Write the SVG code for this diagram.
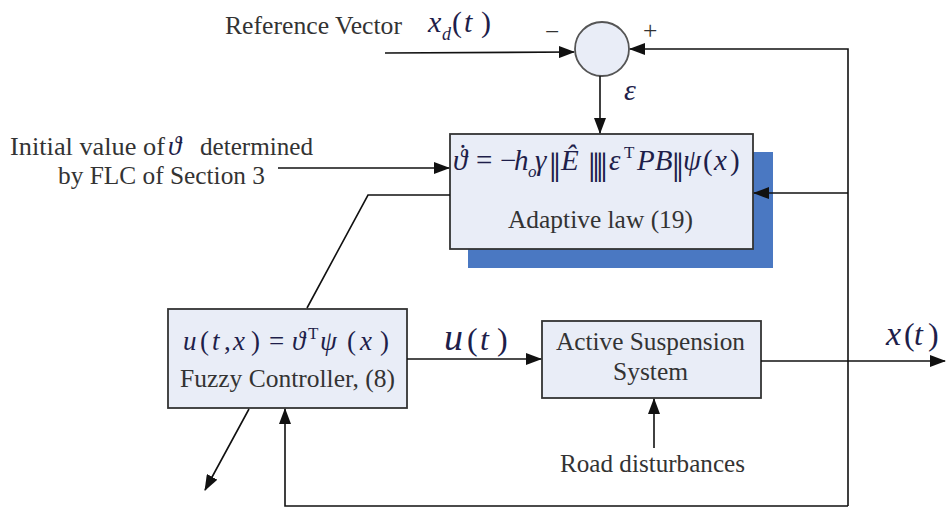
<svg xmlns="http://www.w3.org/2000/svg" width="946" height="513" viewBox="0 0 946 513" font-family="'Liberation Serif', 'Times New Roman', 'DejaVu Serif', serif">
<style>
.ln{fill:none;stroke:#111;stroke-width:1.6}
.box{fill:#e9edf7;stroke:#333;stroke-width:1.8}
.t{font-family:'Liberation Serif','Times New Roman','DejaVu Serif',serif;fill:#333;font-size:25.5px}
.m{font-family:'Liberation Serif','Times New Roman','DejaVu Serif',serif;font-style:italic;fill:#1e1e4a}
.n{font-style:normal}
</style>
<defs>
<marker id="ah" markerUnits="userSpaceOnUse" markerWidth="16" markerHeight="12" refX="15" refY="6" orient="auto">
<path d="M0,0 L16,6 L0,12 Z" fill="#111"/>
</marker>
</defs>
<rect width="946" height="513" fill="#fff"/>
<g id="labels">
<text class="t" x="225" y="34" textLength="177" lengthAdjust="spacingAndGlyphs">Reference Vector</text>
<text class="m" font-size="30"><tspan x="428" y="32">x</tspan><tspan x="442" y="40" font-size="18">d</tspan><tspan class="n" x="452" y="32">(</tspan><tspan x="464" y="32">t</tspan><tspan class="n" x="481" y="32">)</tspan></text>
<text class="t" x="545" y="40" font-size="26">−</text>
<text class="t" x="643" y="39" font-size="22">+</text>
<text class="m" x="624" y="100" font-size="30">ε</text>
<text class="t" x="10" y="155" textLength="155" lengthAdjust="spacingAndGlyphs">Initial value of</text>
<text class="m" x="168" y="155" font-size="27">ϑ</text>
<text class="t" x="200" y="155" textLength="113" lengthAdjust="spacingAndGlyphs">determined</text>
<text class="t" x="58" y="184" textLength="207" lengthAdjust="spacingAndGlyphs">by FLC of Section 3</text>
<text class="m" font-size="32"><tspan x="444" y="350" font-size="38">u</tspan><tspan class="n" x="467" y="350">(</tspan><tspan x="480" y="350">t</tspan><tspan class="n" x="497" y="350">)</tspan></text>
<text class="m" font-size="32"><tspan x="886" y="345" font-size="34">x</tspan><tspan class="n" x="904" y="345">(</tspan><tspan x="914" y="345">t</tspan><tspan class="n" x="928" y="345">)</tspan></text>
<text class="t" x="560" y="472" textLength="185" lengthAdjust="spacingAndGlyphs">Road disturbances</text>
</g>
<g id="sum">
<circle cx="602" cy="49" r="27" fill="#e9edf7" stroke="#555" stroke-width="1.8"/>
</g>
<g id="adaptive">
<rect x="468" y="152" width="305" height="116" fill="#4a78c2"/>
<rect class="box" x="450" y="134" width="303" height="115"/>
<text class="m" font-size="29"><tspan x="453" y="170">ϑ</tspan><tspan class="n" x="458" y="165">˙</tspan><tspan class="n" x="476" y="170">=</tspan><tspan class="n" x="500" y="170">−</tspan><tspan x="514" y="170">h</tspan><tspan x="528" y="177" font-size="17">o</tspan><tspan x="535" y="170">γ</tspan><tspan class="n" font-size="42" x="549" y="182">‖</tspan><tspan x="561" y="170">Ê</tspan><tspan class="n" font-size="42" x="588" y="182">‖</tspan><tspan class="n" font-size="42" x="596" y="182">‖</tspan><tspan x="609" y="170">ε</tspan><tspan class="n" x="624" y="158" font-size="17">T</tspan><tspan x="637" y="170">PB</tspan><tspan class="n" font-size="42" x="672" y="182">‖</tspan><tspan x="683" y="170">ψ</tspan><tspan class="n" x="703" y="170">(</tspan><tspan x="714" y="170">x</tspan><tspan class="n" x="730" y="170">)</tspan></text>
<text class="t" x="508" y="228" textLength="185" lengthAdjust="spacingAndGlyphs">Adaptive law (19)</text>
</g>
<g id="fuzzy">
<rect class="box" x="168" y="309" width="239" height="99"/>
<text class="m" font-size="27"><tspan x="183" y="350">u</tspan><tspan class="n" x="200" y="350">(</tspan><tspan x="212" y="350">t</tspan><tspan class="n" x="224" y="350">,</tspan><tspan x="233" y="350">x</tspan><tspan class="n" x="251" y="350">)</tspan><tspan class="n" x="269" y="350">=</tspan><tspan x="292" y="350">ϑ</tspan><tspan class="n" x="308" y="339" font-size="17">T</tspan><tspan x="320" y="350">ψ</tspan><tspan class="n" x="347" y="350">(</tspan><tspan x="360" y="350">x</tspan><tspan class="n" x="380" y="350">)</tspan></text>
<text class="t" x="180" y="387" textLength="215" lengthAdjust="spacingAndGlyphs">Fuzzy Controller, (8)</text>
</g>
<g id="plant">
<rect class="box" x="542" y="321" width="219" height="77"/>
<text class="t" x="556" y="350" textLength="189" lengthAdjust="spacingAndGlyphs">Active Suspension</text>
<text class="t" x="613" y="380" textLength="75" lengthAdjust="spacingAndGlyphs">System</text>
</g>
<g id="connectors">
<path class="ln" d="M385,53 L574,52" marker-end="url(#ah)"/>
<path class="ln" d="M848,506 L848,49 L630,49" marker-end="url(#ah)"/>
<path class="ln" d="M848,193 L754,193" marker-end="url(#ah)"/>
<path class="ln" d="M600,76 L600,133" marker-end="url(#ah)"/>
<path class="ln" d="M278,168 L449,168" marker-end="url(#ah)"/>
<path class="ln" d="M450,195 L368,195 L307,308 M249,409 L205,490" marker-end="url(#ah)"/>
<path class="ln" d="M407,359 L541,359" marker-end="url(#ah)"/>
<path class="ln" d="M761,361 L945,361" marker-end="url(#ah)"/>
<path class="ln" d="M654,448 L654,399" marker-end="url(#ah)"/>
<path class="ln" d="M848,506 L285,506 L285,409" marker-end="url(#ah)"/>
</g>
</svg>
